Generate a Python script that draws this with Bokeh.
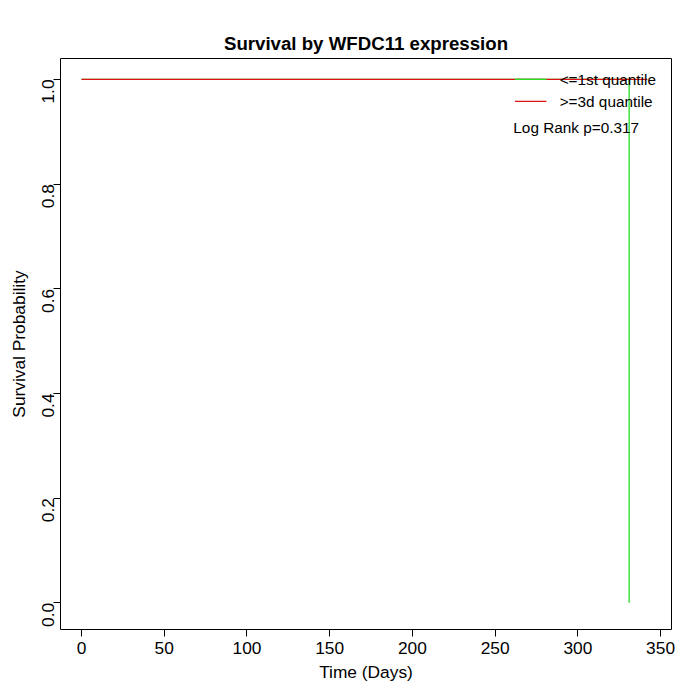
import math
from bokeh.plotting import figure
from bokeh.embed import file_html
from bokeh.resources import INLINE
from bokeh.models import Range1d, Label, PrintfTickFormatter

low_t = [0, 331, 331]
low_s = [1.0, 1.0, 0.0]
high_t = [0, 342]
high_s = [1.0, 1.0]
xticks = [0, 50, 100, 150, 200, 250, 300, 350]
yticks = [0.0, 0.2, 0.4, 0.6, 0.8, 1.0]

p = figure(width=684, height=684, output_backend="svg", toolbar_location=None,
           x_range=Range1d(-12.7, 356.6), y_range=Range1d(-0.051, 1.04),
           min_border_left=60, min_border_right=13, min_border_top=58, min_border_bottom=52)
p.title.text = "Survival by WFDC11 expression"
p.title.align = "center"
p.title.text_font = "Liberation Sans"
p.title.text_font_size = "14pt"
p.title.text_font_style = "bold"
p.title.text_color = "black"
p.xgrid.visible = False
p.ygrid.visible = False
p.outline_line_color = "black"
for ax in (p.xaxis, p.yaxis):
    ax.axis_line_color = None
    ax.major_tick_out = 7
    ax.major_tick_in = 0
    ax.major_tick_line_color = "black"
    ax.minor_tick_line_color = None
    ax.major_label_text_font = "Liberation Sans"
    ax.major_label_text_font_size = "13pt"
    ax.major_label_text_color = "black"
    ax.axis_label_text_font = "Liberation Sans"
    ax.axis_label_text_font_size = "13pt"
    ax.axis_label_text_font_style = "normal"
    ax.axis_label_text_color = "black"
p.xaxis.ticker = xticks
p.yaxis.ticker = yticks
p.yaxis.formatter = PrintfTickFormatter(format="%.1f")
p.yaxis.major_label_orientation = math.pi / 2
p.xaxis.axis_label = "Time (Days)"
p.yaxis.axis_label = "Survival Probability"

p.line(low_t, low_s, line_color="#22dd22", line_width=1.3)
p.line(high_t, high_s, line_color="#dd1111", line_width=1.3)

# legend
p.line([262, 281], [1.0, 1.0], line_color="#22dd22", line_width=1.3)
p.line([262, 281], [0.958, 0.958], line_color="#dd1111", line_width=1.3)
for y, t in [(1.0, "<=1st quantile"), (0.958, ">=3d quantile")]:
    p.add_layout(Label(x=289, y=y, text=t, text_font="Liberation Sans",
                       text_font_size="11.5pt", text_baseline="middle", text_color="black"))
p.add_layout(Label(x=261, y=0.908, text="Log Rank p=0.317", text_font="Liberation Sans",
                   text_font_size="11.5pt", text_baseline="middle", text_color="black"))

open("out.html", "w").write(file_html(p, INLINE))
